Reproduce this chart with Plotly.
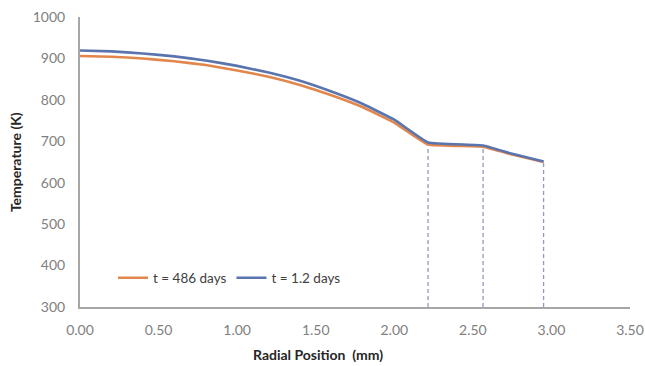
import plotly.graph_objects as go

# Data
radial_mm = [0.0, 0.2, 0.4, 0.6, 0.8, 1.0, 1.2, 1.4, 1.6, 1.8, 2.0, 2.215, 2.565, 2.75, 2.95]
temp_486_days = [906, 904, 900, 893, 884, 871, 856, 836, 811, 782, 745, 692, 687, 668, 650]
temp_1p2_days = [919, 917, 912, 905, 895, 882, 866, 846, 820, 790, 752, 697, 690, 670, 651]
interface_r = [2.215, 2.565, 2.95]
interface_T = [690, 686, 649]
x_ticks = [0.0, 0.5, 1.0, 1.5, 2.0, 2.5, 3.0, 3.5]
y_ticks = [300, 400, 500, 600, 700, 800, 900, 1000]

FONT = "Lato"
fig = go.Figure()

for r, t in zip(interface_r, interface_T):
    fig.add_trace(go.Scatter(x=[r, r], y=[300, t], mode="lines",
                             line=dict(color="#8E9CBC", width=1.3, dash="4px,3px"),
                             showlegend=False, hoverinfo="skip"))

fig.add_trace(go.Scatter(x=radial_mm, y=temp_486_days, mode="lines", name="t = 486 days",
                         line=dict(color="#E3864C", width=2.6, shape="spline", smoothing=0.3)))
fig.add_trace(go.Scatter(x=radial_mm, y=temp_1p2_days, mode="lines", name="t = 1.2 days",
                         line=dict(color="#5A74AE", width=2.6, shape="spline", smoothing=0.3)))

fig.update_layout(
    width=645, height=366,
    margin=dict(l=80, r=15, t=17, b=59, autoexpand=False),
    plot_bgcolor="white", paper_bgcolor="white",
    font=dict(family=FONT, size=14, color="#808080"),
    showlegend=True,
    legend=dict(orientation="h", x=0.06, y=0.1, xanchor="left", yanchor="middle",
                font=dict(family=FONT, size=13.5, color="#404040"),
                bgcolor="rgba(0,0,0,0)", itemwidth=30, tracegroupgap=0),
    xaxis=dict(range=[0, 3.5], tickvals=x_ticks, tickformat=".2f", automargin=False,
               showline=True, linecolor="#A6A6A6", linewidth=2, showgrid=False,
               zeroline=False, ticks="", ticklen=0, ticklabelstandoff=9,
               tickfont=dict(family=FONT, size=14, color="#808080")),
    yaxis=dict(range=[300, 1000], tickvals=y_ticks, automargin=False,
               showline=True, linecolor="#A6A6A6", linewidth=2, showgrid=False,
               zeroline=False, ticks="", ticklen=0, ticklabelstandoff=10,
               tickfont=dict(family=FONT, size=14, color="#808080")),
    annotations=[
        dict(text="<b>Radial Position  (mm)</b>", xref="paper", yref="paper",
             x=0.433, y=-0.165, xanchor="center", yanchor="middle", showarrow=False,
             font=dict(family=FONT, size=14, color="#262626")),
        dict(text="<b>Temperature (K)</b>", xref="paper", yref="paper",
             x=-0.118, y=0.5, xanchor="center", yanchor="middle", showarrow=False,
             textangle=-90, font=dict(family=FONT, size=14, color="#262626")),
    ],
)

fig.write_html("out.html")
